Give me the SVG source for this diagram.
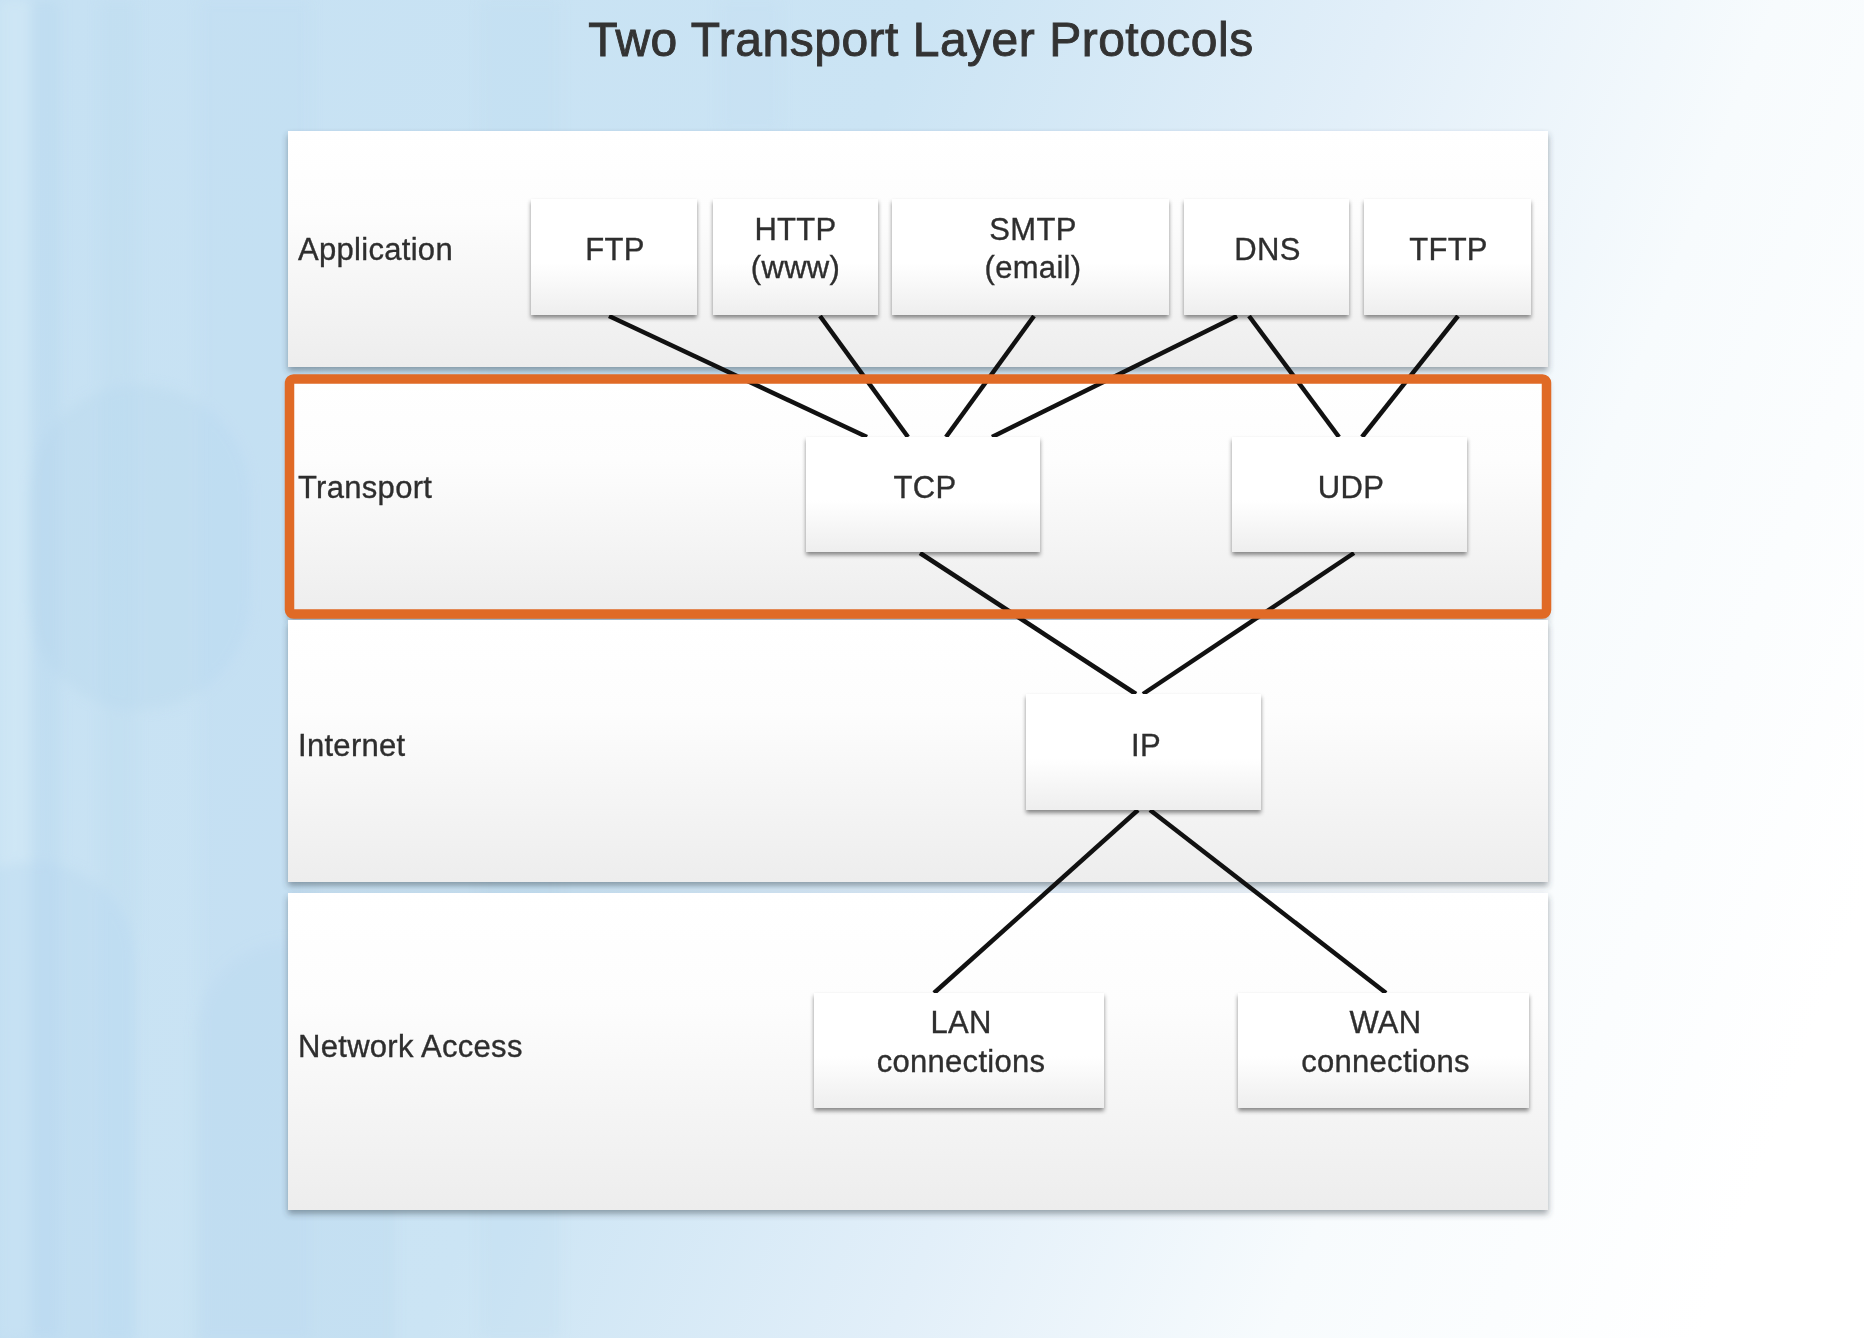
<svg xmlns="http://www.w3.org/2000/svg" width="1864" height="1338" viewBox="0 0 1864 1338">
<defs>
<linearGradient id="bg" gradientUnits="userSpaceOnUse" x1="0" y1="200" x2="1864" y2="900">
<stop offset="0" stop-color="#c6e1f3"/>
<stop offset="0.4" stop-color="#cbe4f4"/>
<stop offset="0.62" stop-color="#e2eff9"/>
<stop offset="0.8" stop-color="#f7fbfd"/>
<stop offset="1" stop-color="#ffffff"/>
</linearGradient>
<linearGradient id="panel" x1="0" y1="0" x2="0" y2="1">
<stop offset="0" stop-color="#ffffff"/>
<stop offset="0.35" stop-color="#fdfdfd"/>
<stop offset="1" stop-color="#ededed"/>
</linearGradient>
<linearGradient id="box" x1="0" y1="0" x2="0" y2="1">
<stop offset="0" stop-color="#ffffff"/>
<stop offset="0.55" stop-color="#ffffff"/>
<stop offset="1" stop-color="#eeeeee"/>
</linearGradient>
<filter id="pshadow" x="-5%" y="-10%" width="110%" height="125%">
<feDropShadow dx="0" dy="4" stdDeviation="3" flood-color="#30404a" flood-opacity="0.45"/>
</filter>
<filter id="bshadow" x="-10%" y="-10%" width="120%" height="130%">
<feDropShadow dx="0" dy="3" stdDeviation="2.2" flood-color="#000" flood-opacity="0.45"/>
</filter>
<filter id="soft" x="-20%" y="-20%" width="140%" height="140%">
<feGaussianBlur stdDeviation="6"/>
</filter>
<style>
.lbl{font-family:"Liberation Sans",Arial,Helvetica,sans-serif;font-size:31px;fill:#2e2e2e;stroke:#2e2e2e;stroke-width:0.35px;letter-spacing:0.3px}
.ctr{text-anchor:middle}
.title{font-family:"Liberation Sans",Arial,Helvetica,sans-serif;font-size:48px;fill:#333;stroke:#333;stroke-width:0.9px;letter-spacing:0.5px;text-anchor:middle}
.panel{fill:url(#panel);filter:url(#pshadow)}
.node rect{fill:url(#box);filter:url(#bshadow)}
.conn line{stroke:#111;stroke-width:4.5;stroke-linecap:butt}
</style>
</defs>

<g id="background">
<rect x="0" y="0" width="1864" height="1338" fill="url(#bg)"/>
<g filter="url(#soft)">
<rect x="0" y="0" width="30" height="1338" fill="#d6ebf7" opacity="0.5"/>
<rect x="32" y="0" width="28" height="1338" fill="#b5d6ee" opacity="0.35"/>
<rect x="100" y="0" width="36" height="1338" fill="#b8d9ef" opacity="0.3"/>
<rect x="200" y="0" width="110" height="1338" fill="#bcdcf1" opacity="0.3"/>
<rect x="480" y="0" width="80" height="1338" fill="#bddcf1" opacity="0.25"/>
<rect x="720" y="0" width="60" height="131" fill="#c2dff3" opacity="0.3"/>
<rect x="28" y="385" width="222" height="325" rx="111" fill="#b2d4ec" opacity="0.3"/>
<rect x="-70" y="862" width="205" height="600" rx="100" fill="#b4d5ed" opacity="0.3"/>
<rect x="195" y="940" width="200" height="500" rx="100" fill="#b4d5ed" opacity="0.25"/>
</g>
</g>

<text class="title" x="921" y="56">Two Transport Layer Protocols</text>

<g id="layers">
<g id="layer-application">
<rect class="panel" x="288" y="131" width="1260" height="236"/>
<text class="lbl" x="298" y="260">Application</text>
</g>
<g id="layer-transport">
<rect class="panel" x="288" y="378" width="1260" height="238"/>
<text class="lbl" x="298" y="498">Transport</text>
</g>
<g id="layer-internet">
<rect class="panel" x="288" y="620" width="1260" height="262"/>
<text class="lbl" x="298" y="756">Internet</text>
</g>
<g id="layer-network-access">
<rect class="panel" x="288" y="893" width="1260" height="317"/>
<text class="lbl" x="298" y="1057">Network Access</text>
</g>
</g>

<g id="connectors" class="conn">
<line x1="609" y1="316" x2="867" y2="437"/>
<line x1="820" y1="316" x2="908" y2="437"/>
<line x1="1034" y1="316" x2="946" y2="437"/>
<line x1="1237" y1="316" x2="992" y2="437"/>
<line x1="1249" y1="316" x2="1339" y2="437"/>
<line x1="1458" y1="316" x2="1362" y2="437"/>
<line x1="920" y1="553" x2="1136" y2="694"/>
<line x1="1354" y1="553" x2="1143" y2="694"/>
<line x1="1138" y1="810" x2="934" y2="993"/>
<line x1="1150" y1="810" x2="1386" y2="993"/>
</g>

<g id="node-ftp" class="node">
<rect x="531" y="199" width="166" height="116"/>
<text class="lbl ctr" x="615" y="260">FTP</text>
</g>
<g id="node-http" class="node">
<rect x="713" y="199" width="165" height="116"/>
<text class="lbl ctr" x="795.5" y="240">HTTP</text>
<text class="lbl ctr" x="795.5" y="278">(www)</text>
</g>
<g id="node-smtp" class="node">
<rect x="892" y="199" width="277" height="116"/>
<text class="lbl ctr" x="1033" y="240">SMTP</text>
<text class="lbl ctr" x="1033" y="278">(email)</text>
</g>
<g id="node-dns" class="node">
<rect x="1184" y="199" width="165" height="116"/>
<text class="lbl ctr" x="1267.5" y="260">DNS</text>
</g>
<g id="node-tftp" class="node">
<rect x="1364" y="199" width="167" height="116"/>
<text class="lbl ctr" x="1448.5" y="260">TFTP</text>
</g>
<g id="node-tcp" class="node">
<rect x="806" y="437" width="234" height="115"/>
<text class="lbl ctr" x="925" y="498">TCP</text>
</g>
<g id="node-udp" class="node">
<rect x="1232" y="437" width="235" height="115"/>
<text class="lbl ctr" x="1351" y="498">UDP</text>
</g>
<g id="node-ip" class="node">
<rect x="1026" y="694" width="235" height="116"/>
<text class="lbl ctr" x="1146" y="756">IP</text>
</g>
<g id="node-lan" class="node">
<rect x="814" y="993" width="290" height="115"/>
<text class="lbl ctr" x="961" y="1033">LAN</text>
<text class="lbl ctr" x="961" y="1072">connections</text>
</g>
<g id="node-wan" class="node">
<rect x="1238" y="993" width="291" height="115"/>
<text class="lbl ctr" x="1385.5" y="1033">WAN</text>
<text class="lbl ctr" x="1385.5" y="1072">connections</text>
</g>

<g id="highlight">
<rect x="289.5" y="379" width="1257" height="235" rx="4" fill="none" stroke="#e06a26" stroke-width="9.5"/>
</g>
</svg>
